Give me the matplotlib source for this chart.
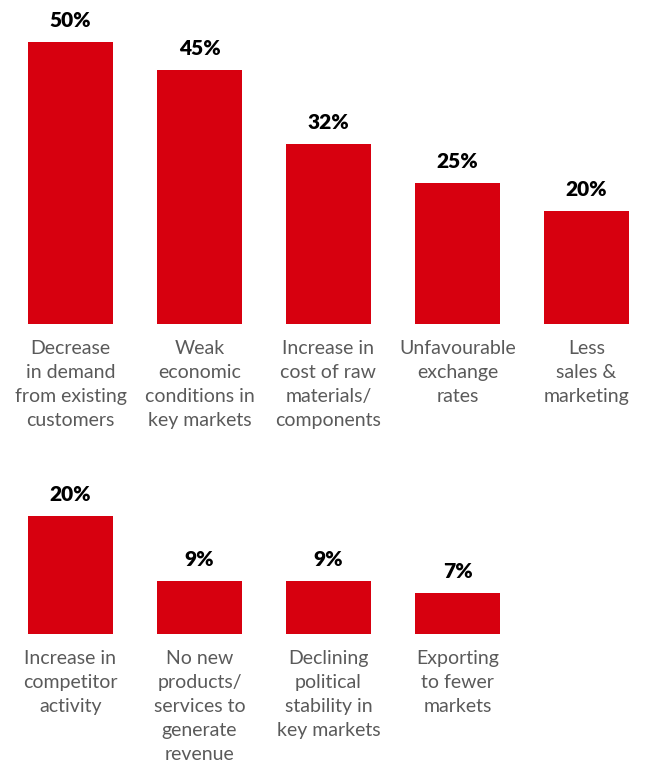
import matplotlib.pyplot as plt

# top row
top_labels = ["Decrease\nin demand\nfrom existing\ncustomers",
              "Weak\neconomic\nconditions in\nkey markets",
              "Increase in\ncost of raw\nmaterials/\ncomponents",
              "Unfavourable\nexchange\nrates",
              "Less\nsales &\nmarketing"]
top_values = [50, 45, 32, 25, 20]

# bottom row
bottom_labels = ["Increase in\ncompetitor\nactivity",
                 "No new\nproducts/\nservices to\ngenerate\nrevenue",
                 "Declining\npolitical\nstability in\nkey markets",
                 "Exporting\nto fewer\nmarkets"]
bottom_values = [20, 9, 9, 7]

RED = "#d7000f"
GREY = "#5a5a5a"
W, H = 646, 765

fig = plt.figure(figsize=(W / 100, H / 100), dpi=100)


def row(rect_px, labels, values, ymax):
    left, top, width, height = rect_px
    ax = fig.add_axes([left / W, (H - top - height) / H, width / W, height / H])
    x = list(range(len(values)))
    ax.bar(x, values, width=85 / 129, color=RED)
    ax.set_xlim(-70.5 / 129, (W - 70.5) / 129)
    ax.set_ylim(0, ymax)
    ax.axis("off")
    for xi, v, lab in zip(x, values, labels):
        ax.annotate(f"{v}%", (xi, v), xytext=(0, 12), textcoords="offset pixels",
                    ha="center", va="bottom", fontsize=15, fontweight="heavy",
                    family="Lato", color="black", annotation_clip=False)
        ax.annotate(lab, (xi, 0), xytext=(0, -16), textcoords="offset pixels",
                    ha="center", va="top", fontsize=14, family="Lato",
                    color=GREY, linespacing=1.5, annotation_clip=False)
    return ax


row((0, 0, W, 324), top_labels, top_values, 324 / 5.64)
row((0, 450, W, 184), bottom_labels, bottom_values, 184 / 5.9)

fig.savefig("out.png", dpi=100, facecolor="white")
